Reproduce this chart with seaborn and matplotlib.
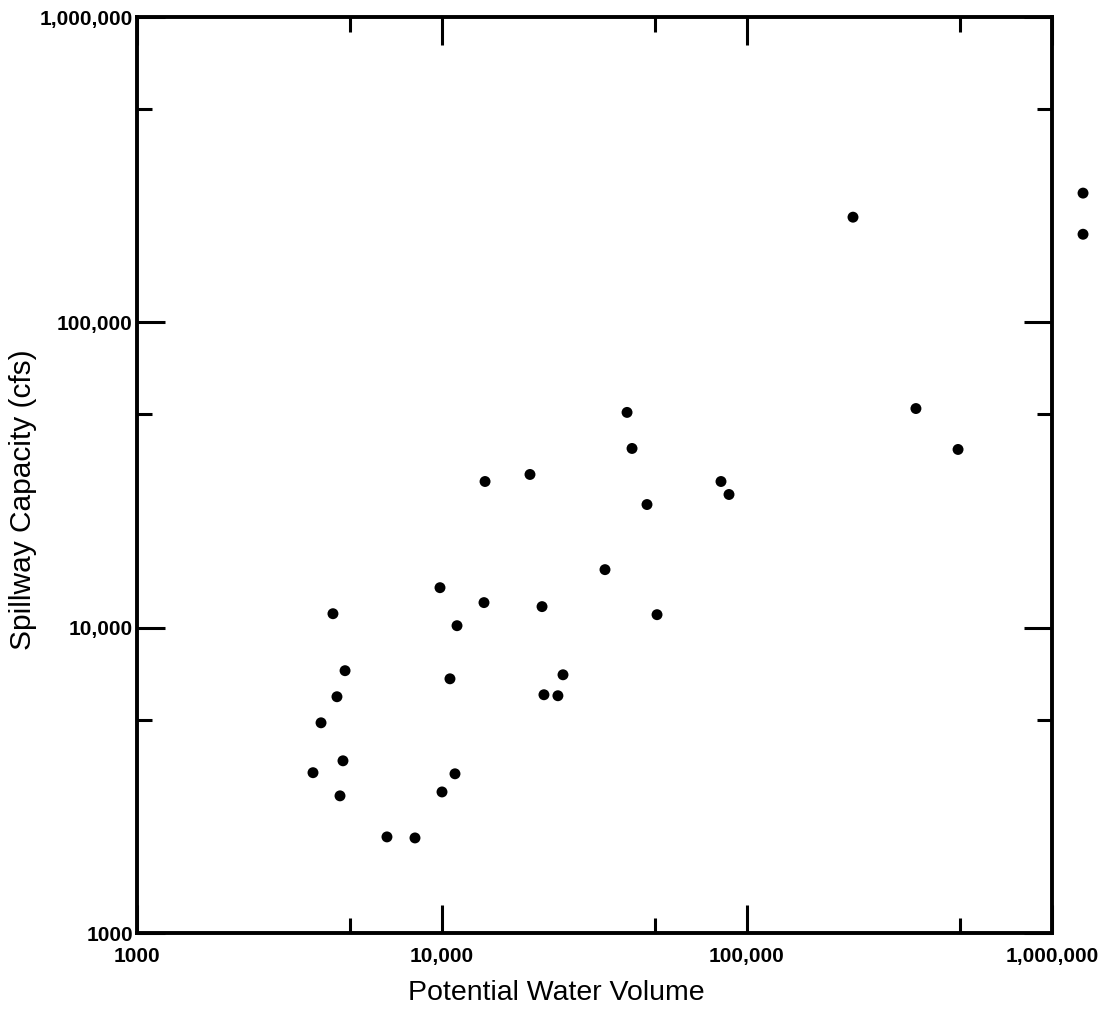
import matplotlib
matplotlib.use("Agg")
import matplotlib.pyplot as plt
from matplotlib.ticker import FixedLocator, FixedFormatter, NullFormatter
import seaborn as sns
import pandas as pd

# ---- data ----
water_volume = [1264000, 1264000, 222600, 358000, 492000, 40430, 41980, 82170, 87300,
                47000, 19430, 13840, 34230, 50700, 21280, 13730, 9850, 11200, 4390,
                24930, 21590, 23990, 10620, 4810, 4525, 4012, 4735, 3776, 4630,
                11030, 10000, 6600, 8155]
spillway_capacity = [265000, 194300, 221000, 52200, 38340, 50700, 38630, 30110, 27300,
                     25310, 31750, 30110, 15490, 11030, 11720, 12080, 13520, 10150, 11110,
                     7010, 6030, 5985, 6800, 7230, 5940, 4880, 3664, 3350, 2813,
                     3322, 2897, 2064, 2048]

major_ticks = [1000, 10000, 100000, 1000000]
minor_ticks = [5000, 50000, 500000]
x_tick_labels = ["1000", "10,000", "100,000", "1,000,000"]
y_tick_labels = ["1000", "10,000", "100,000", "1,000,000"]
x_label = "Potential Water Volume"
y_label = "Spillway Capacity (cfs)"

df = pd.DataFrame({"volume": water_volume, "capacity": spillway_capacity})

sns.set_style("ticks")
plt.rcParams["font.family"] = ["Liberation Sans", "DejaVu Sans"]

fig = plt.figure(figsize=(11.04, 10.13), dpi=100)
ax = fig.add_axes([137 / 1104, 1 - 933 / 1013, (1052 - 137) / 1104, (933 - 17) / 1013])

sns.scatterplot(data=df, x="volume", y="capacity", ax=ax, color="black",
                s=62, edgecolor="none", linewidth=0, legend=False)
ax.collections[0].set_clip_on(False)

ax.set_xscale("log")
ax.set_yscale("log")
ax.set_xlim(1000, 1000000)
ax.set_ylim(1000, 1000000)

for axis, labels in ((ax.xaxis, x_tick_labels), (ax.yaxis, y_tick_labels)):
    axis.set_major_locator(FixedLocator(major_ticks))
    axis.set_major_formatter(FixedFormatter(labels))
    axis.set_minor_locator(FixedLocator(minor_ticks))
    axis.set_minor_formatter(NullFormatter())

for sp in ax.spines.values():
    sp.set_visible(True)
    sp.set_linewidth(2.8)
    sp.set_color("black")

ax.tick_params(which="both", direction="in", top=True, right=True, color="black", width=2.2)
ax.tick_params(which="major", length=20)
ax.tick_params(which="minor", length=11)
ax.tick_params(axis="x", which="major", pad=10)
ax.tick_params(axis="y", which="major", pad=3)

for lab in ax.get_xticklabels() + ax.get_yticklabels():
    lab.set_fontweight("bold")
    lab.set_fontsize(15)
    lab.set_color("black")

ax.set_xlabel(x_label, fontsize=20.5, color="black")
ax.set_ylabel(y_label, fontsize=21.5, color="black")
ax.xaxis.set_label_coords(0.458, -0.051)
ax.yaxis.set_label_coords(-0.109, 0.473)

fig.savefig("out.png", dpi=100, facecolor="white")
